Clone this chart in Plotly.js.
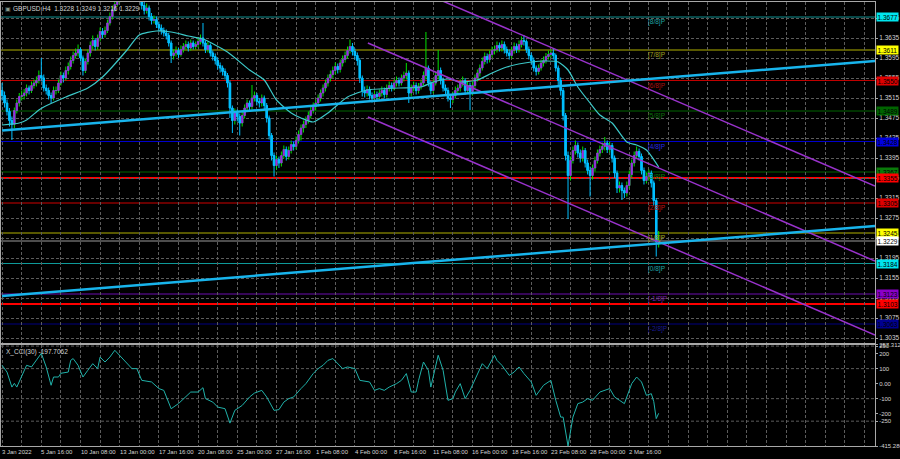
<!DOCTYPE html>
<html><head><meta charset="utf-8">
<script src="https://cdn.plot.ly/plotly-3.0.1.min.js"></script>
<style>html,body{margin:0;padding:0;background:#000;}#chart{width:900px;height:459px;}</style>
</head><body><div id="chart"></div>
<script>
// ---------- DATA ----------
const openP = [
1.3530,1.3520,1.3505,1.3488,1.3470,1.3462,1.3490,1.3505,1.3518,1.3520,
1.3525,1.3535,1.3530,1.3540,1.3545,1.3550,1.3560,1.3555,1.3535,1.3530,
1.3520,1.3515,1.3530,1.3530,1.3545,1.3560,1.3555,1.3570,1.3578,1.3590,
1.3600,1.3605,1.3612,1.3595,1.3570,1.3588,1.3605,1.3620,1.3630,1.3618,
1.3635,1.3648,1.3642,1.3650,1.3665,1.3678,1.3692,1.3702,1.3712,1.3722,
1.3735,1.3728,1.3740,1.3745,1.3735,1.3730,1.3725,1.3718,1.3700,1.3690,
1.3695,1.3678,1.3670,1.3672,1.3662,1.3655,1.3650,1.3645,1.3640,1.3625,
1.3600,1.3605,1.3610,1.3602,1.3612,1.3618,1.3622,1.3615,1.3625,1.3618,
1.3622,1.3628,1.3635,1.3625,1.3612,1.3620,1.3605,1.3598,1.3590,1.3580,
1.3575,1.3568,1.3560,1.3545,1.3495,1.3470,1.3485,1.3478,1.3465,1.3480,
1.3495,1.3505,1.3498,1.3515,1.3520,1.3508,1.3505,1.3515,1.3500,1.3475,
1.3440,1.3400,1.3380,1.3392,1.3385,1.3400,1.3412,1.3398,1.3410,1.3422,
1.3418,1.3430,1.3442,1.3455,1.3462,1.3470,1.3480,1.3490,1.3498,1.3505,
1.3515,1.3525,1.3535,1.3545,1.3555,1.3562,1.3570,1.3578,1.3572,1.3585,
1.3592,1.3600,1.3610,1.3618,1.3608,1.3600,1.3590,1.3555,1.3530,1.3525,
1.3532,1.3520,1.3515,1.3522,1.3518,1.3525,1.3530,1.3522,1.3535,1.3540,
1.3535,1.3545,1.3550,1.3545,1.3555,1.3560,1.3565,1.3525,1.3535,1.3540,
1.3530,1.3538,1.3545,1.3560,1.3575,1.3545,1.3530,1.3545,1.3560,1.3570,
1.3550,1.3535,1.3530,1.3515,1.3512,1.3520,1.3530,1.3535,1.3545,1.3550,
1.3530,1.3540,1.3528,1.3540,1.3555,1.3565,1.3575,1.3588,1.3598,1.3592,
1.3602,1.3610,1.3612,1.3620,1.3615,1.3622,1.3612,1.3605,1.3600,1.3610,
1.3618,1.3612,1.3622,1.3630,1.3628,1.3612,1.3600,1.3590,1.3575,1.3568,
1.3575,1.3585,1.3590,1.3598,1.3602,1.3605,1.3600,1.3575,1.3550,1.3530,
1.3480,1.3400,1.3360,1.3390,1.3410,1.3420,1.3405,1.3395,1.3410,1.3385,
1.3370,1.3360,1.3375,1.3390,1.3405,1.3412,1.3418,1.3425,1.3412,1.3420,
1.3395,1.3365,1.3335,1.3340,1.3330,1.3325,1.3340,1.3362,1.3385,1.3400,
1.3408,1.3398,1.3370,1.3350,1.3358,1.3365,1.3345,1.3310,1.3228];
const highP = [
1.3545,1.3528,1.3512,1.3495,1.3478,1.3496,1.3512,1.3525,1.3530,1.3533,
1.3542,1.3540,1.3548,1.3552,1.3558,1.3570,1.3595,1.3562,1.3542,1.3536,
1.3526,1.3538,1.3538,1.3552,1.3568,1.3566,1.3578,1.3586,1.3598,1.3608,
1.3614,1.3622,1.3616,1.3600,1.3594,1.3612,1.3628,1.3640,1.3635,1.3642,
1.3656,1.3655,1.3658,1.3672,1.3686,1.3700,1.3710,1.3720,1.3730,1.3742,
1.3740,1.3746,1.3749,1.3748,1.3740,1.3736,1.3730,1.3722,1.3708,1.3704,
1.3700,1.3685,1.3680,1.3678,1.3668,1.3662,1.3656,1.3652,1.3645,1.3630,
1.3612,1.3618,1.3615,1.3620,1.3625,1.3630,1.3628,1.3632,1.3630,1.3628,
1.3636,1.3642,1.3665,1.3630,1.3628,1.3624,1.3610,1.3604,1.3596,1.3586,
1.3580,1.3574,1.3565,1.3550,1.3500,1.3494,1.3492,1.3484,1.3488,1.3502,
1.3512,1.3510,1.3541,1.3528,1.3525,1.3515,1.3522,1.3520,1.3505,1.3480,
1.3445,1.3406,1.3400,1.3398,1.3408,1.3420,1.3418,1.3418,1.3430,1.3428,
1.3438,1.3450,1.3462,1.3470,1.3478,1.3488,1.3498,1.3506,1.3512,1.3522,
1.3532,1.3542,1.3552,1.3562,1.3570,1.3578,1.3586,1.3584,1.3592,1.3600,
1.3608,1.3618,1.3632,1.3625,1.3614,1.3606,1.3595,1.3560,1.3538,1.3540,
1.3538,1.3526,1.3530,1.3528,1.3532,1.3538,1.3536,1.3542,1.3548,1.3546,
1.3552,1.3558,1.3556,1.3562,1.3568,1.3585,1.3570,1.3542,1.3548,1.3546,
1.3545,1.3552,1.3568,1.3647,1.3580,1.3550,1.3552,1.3568,1.3611,1.3576,
1.3556,1.3542,1.3536,1.3522,1.3528,1.3538,1.3542,1.3552,1.3558,1.3555,
1.3548,1.3546,1.3548,1.3562,1.3572,1.3582,1.3596,1.3606,1.3604,1.3610,
1.3618,1.3620,1.3628,1.3626,1.3630,1.3628,1.3618,1.3612,1.3618,1.3626,
1.3624,1.3630,1.3638,1.3641,1.3632,1.3618,1.3606,1.3596,1.3580,1.3582,
1.3592,1.3598,1.3605,1.3610,1.3612,1.3615,1.3604,1.3580,1.3556,1.3535,
1.3485,1.3408,1.3398,1.3418,1.3430,1.3426,1.3412,1.3418,1.3415,1.3392,
1.3378,1.3382,1.3398,1.3412,1.3420,1.3426,1.3437,1.3430,1.3428,1.3425,
1.3400,1.3370,1.3348,1.3346,1.3336,1.3348,1.3370,1.3392,1.3408,1.3418,
1.3414,1.3404,1.3376,1.3366,1.3372,1.3370,1.3350,1.3315,1.3249];
const lowP = [
1.3510,1.3496,1.3480,1.3458,1.3431,1.3455,1.3484,1.3498,1.3510,1.3512,
1.3518,1.3522,1.3525,1.3534,1.3538,1.3544,1.3548,1.3528,1.3522,1.3512,
1.3505,1.3510,1.3522,1.3525,1.3540,1.3546,1.3550,1.3562,1.3572,1.3584,
1.3594,1.3598,1.3588,1.3560,1.3565,1.3582,1.3598,1.3612,1.3610,1.3612,
1.3628,1.3634,1.3636,1.3645,1.3660,1.3672,1.3688,1.3698,1.3706,1.3718,
1.3716,1.3722,1.3732,1.3726,1.3722,1.3716,1.3712,1.3692,1.3682,1.3684,
1.3670,1.3662,1.3664,1.3655,1.3648,1.3642,1.3638,1.3632,1.3618,1.3585,
1.3592,1.3598,1.3595,1.3598,1.3606,1.3612,1.3608,1.3610,1.3612,1.3612,
1.3616,1.3622,1.3618,1.3605,1.3606,1.3598,1.3590,1.3582,1.3572,1.3566,
1.3560,1.3552,1.3536,1.3475,1.3445,1.3462,1.3468,1.3440,1.3458,1.3474,
1.3488,1.3490,1.3492,1.3508,1.3500,1.3496,1.3498,1.3492,1.3466,1.3432,
1.3390,1.3358,1.3372,1.3375,1.3378,1.3394,1.3390,1.3392,1.3404,1.3410,
1.3412,1.3424,1.3430,1.3446,1.3455,1.3464,1.3474,1.3484,1.3490,1.3498,
1.3508,1.3518,1.3528,1.3538,1.3548,1.3555,1.3562,1.3564,1.3566,1.3578,
1.3586,1.3594,1.3604,1.3600,1.3592,1.3580,1.3545,1.3518,1.3516,1.3518,
1.3512,1.3506,1.3508,1.3510,1.3512,1.3518,1.3514,1.3516,1.3528,1.3528,
1.3530,1.3538,1.3538,1.3540,1.3548,1.3552,1.3505,1.3518,1.3528,1.3522,
1.3524,1.3532,1.3540,1.3552,1.3538,1.3522,1.3524,1.3540,1.3552,1.3542,
1.3528,1.3522,1.3508,1.3495,1.3505,1.3514,1.3524,1.3528,1.3538,1.3522,
1.3524,1.3491,1.3520,1.3534,1.3548,1.3558,1.3570,1.3582,1.3584,1.3586,
1.3596,1.3602,1.3606,1.3608,1.3608,1.3604,1.3598,1.3592,1.3594,1.3604,
1.3605,1.3606,1.3616,1.3620,1.3605,1.3592,1.3582,1.3568,1.3560,1.3562,
1.3570,1.3578,1.3584,1.3592,1.3596,1.3592,1.3568,1.3540,1.3520,1.3470,
1.3390,1.3273,1.3350,1.3384,1.3402,1.3396,1.3386,1.3388,1.3376,1.3362,
1.3318,1.3352,1.3368,1.3384,1.3398,1.3405,1.3410,1.3405,1.3406,1.3386,
1.3355,1.3325,1.3326,1.3311,1.3315,1.3318,1.3334,1.3356,1.3378,1.3394,
1.3390,1.3362,1.3342,1.3344,1.3350,1.3336,1.3300,1.3198,1.3216];
const closeP = [
1.3520,1.3505,1.3488,1.3470,1.3462,1.3490,1.3505,1.3518,1.3520,1.3525,
1.3535,1.3530,1.3540,1.3545,1.3550,1.3560,1.3555,1.3535,1.3530,1.3520,
1.3515,1.3530,1.3530,1.3545,1.3560,1.3555,1.3570,1.3578,1.3590,1.3600,
1.3605,1.3612,1.3595,1.3570,1.3588,1.3605,1.3620,1.3630,1.3618,1.3635,
1.3648,1.3642,1.3650,1.3665,1.3678,1.3692,1.3702,1.3712,1.3722,1.3735,
1.3728,1.3740,1.3745,1.3735,1.3730,1.3725,1.3718,1.3700,1.3690,1.3695,
1.3678,1.3670,1.3672,1.3662,1.3655,1.3650,1.3645,1.3640,1.3625,1.3600,
1.3605,1.3610,1.3602,1.3612,1.3618,1.3622,1.3615,1.3625,1.3618,1.3622,
1.3628,1.3635,1.3625,1.3612,1.3620,1.3605,1.3598,1.3590,1.3580,1.3575,
1.3568,1.3560,1.3545,1.3495,1.3470,1.3485,1.3478,1.3465,1.3480,1.3495,
1.3505,1.3498,1.3515,1.3520,1.3508,1.3505,1.3515,1.3500,1.3475,1.3440,
1.3400,1.3380,1.3392,1.3385,1.3400,1.3412,1.3398,1.3410,1.3422,1.3418,
1.3430,1.3442,1.3455,1.3462,1.3470,1.3480,1.3490,1.3498,1.3505,1.3515,
1.3525,1.3535,1.3545,1.3555,1.3562,1.3570,1.3578,1.3572,1.3585,1.3592,
1.3600,1.3610,1.3618,1.3608,1.3600,1.3590,1.3555,1.3530,1.3525,1.3532,
1.3520,1.3515,1.3522,1.3518,1.3525,1.3530,1.3522,1.3535,1.3540,1.3535,
1.3545,1.3550,1.3545,1.3555,1.3560,1.3565,1.3525,1.3535,1.3540,1.3530,
1.3538,1.3545,1.3560,1.3575,1.3545,1.3530,1.3545,1.3560,1.3570,1.3550,
1.3535,1.3530,1.3515,1.3512,1.3520,1.3530,1.3535,1.3545,1.3550,1.3530,
1.3540,1.3528,1.3540,1.3555,1.3565,1.3575,1.3588,1.3598,1.3592,1.3602,
1.3610,1.3612,1.3620,1.3615,1.3622,1.3612,1.3605,1.3600,1.3610,1.3618,
1.3612,1.3622,1.3630,1.3628,1.3612,1.3600,1.3590,1.3575,1.3568,1.3575,
1.3585,1.3590,1.3598,1.3602,1.3605,1.3600,1.3575,1.3550,1.3530,1.3480,
1.3400,1.3360,1.3390,1.3410,1.3420,1.3405,1.3395,1.3410,1.3385,1.3370,
1.3360,1.3375,1.3390,1.3405,1.3412,1.3418,1.3425,1.3412,1.3420,1.3395,
1.3365,1.3335,1.3340,1.3330,1.3325,1.3340,1.3362,1.3385,1.3400,1.3408,
1.3398,1.3370,1.3350,1.3358,1.3365,1.3345,1.3310,1.3228,1.3229];

const maBars = [0,7,10,15,17,26,35,41,51,56,63,69,76,82,92,101,107,112,118,122,127,133,141,149,162,171,176,182,187,194,200,206,216,222,227,231,235,240,244,249,255,259,263,268];
const maValues = [1.3461,1.3465,1.3471,1.3491,1.3497,1.3517,1.3535,1.3557,1.3611,1.3641,1.3649,1.3647,1.3639,1.3633,1.3607,1.3571,1.3551,1.3511,1.3485,1.3475,1.3467,1.3485,1.3517,1.3531,1.3535,1.3537,1.3547,1.3553,1.3547,1.3551,1.3565,1.3577,1.3587,1.3589,1.3587,1.3571,1.3537,1.3505,1.3481,1.3465,1.3427,1.3421,1.3411,1.3377];

const cciBars = [0,2,4,5,6,8,10,12,13,16,18,20,21,23,24,27,28,29,31,33,35,37,39,40,42,44,46,48,50,53,55,57,61,64,66,69,72,75,77,80,82,83,86,88,91,93,95,98,101,103,106,108,111,113,115,117,119,122,124,127,129,131,133,135,137,139,141,144,146,150,152,154,156,158,161,163,165,167,169,170,172,174,175,178,180,182,184,185,187,189,191,193,194,196,198,201,202,204,207,209,211,213,216,218,221,223,224,226,228,229,231,233,235,237,239,241,244,248,250,252,254,257,259,261,263,265,266,267,268];
const cciValues = [122,77,-23,2,-23,44,122,111,135,202,111,-11,44,44,69,77,155,167,122,44,89,133,100,177,144,177,222,189,155,100,100,22,11,-33,-45,-167,-133,-89,-56,-56,-27,-100,-123,-156,-167,-263,-178,-145,-89,-63,-45,-89,-178,-173,-123,-100,-89,-33,0,67,100,122,155,167,133,100,111,100,22,11,-45,-33,-45,-23,0,22,67,-56,-56,22,144,89,-23,189,89,-111,-100,-56,0,-100,-45,22,55,133,100,189,155,122,55,77,111,67,11,-78,-11,11,22,-111,-223,-223,-415.286,-223,-133,-123,-100,-111,-56,-33,-89,-111,-133,0,44,11,-78,-67,-120,-233,-197.7062];
const cciLevels = [250,100,-100,-250];
const cciTickVals = [257.3123,250,200,100,0,-100,-200,-250,-415.286];
const cciTickText = ["257.3123","250","200","100","0.00","-100","-200","-250","-415.286"];

const timeLabelBars = [0,16,32,48,64,80,96,112,128,144,160,176,192,208,224,240,256];
const timeLabels = ["3 Jan 2022","5 Jan 16:00","10 Jan 08:00","13 Jan 00:00","17 Jan 16:00","20 Jan 08:00","25 Jan 00:00","27 Jan 16:00","1 Feb 08:00","4 Feb 00:00","8 Feb 16:00","11 Feb 08:00","16 Feb 00:00","18 Feb 16:00","23 Feb 08:00","28 Feb 00:00","2 Mar 16:00"];
const gridBars = [0,8,16,24,32,40,48,56,64,72,80,88,96,104,112,120,128,136,144,152,160,168,176,184,192,200,208,216,224,232,240,248,256,264,272,280,288,296,304,312,320,328,336,344,352];
const priceTicks = [1.3035,1.3075,1.3115,1.3155,1.3195,1.3235,1.3275,1.3315,1.3355,1.3395,1.3435,1.3475,1.3515,1.3555,1.3595,1.3635,1.3675];

const murreyLevels = [1.3677,1.3611,1.3550,1.3489,1.3428,1.3367,1.3305,1.3245,1.3184,1.3123,1.3063];
const murreyNames = ["[8/8]P","[7/8]P","[6/8]P","[5/8]P","[4/8]P","[3/8]P","[2/8]P","[1/8]P","[0/8]P","[-1/8]P","[-2/8]P"];
const murreyLabelBar = 263;
const supportLevels = [1.3355,1.3103];
const bidPrice = 1.3229;
const priceBoxes = [1.3677,1.3611,1.3550,1.3489,1.3428,1.3367,1.3355,1.3305,1.3245,1.3229,1.3184,1.3123,1.3103,1.3063];

const trendUpperBars = [0,356.3], trendUpperPrices = [1.3450,1.3589];
const trendLowerBars = [0,356.3], trendLowerPrices = [1.3119,1.3259];
const chanTopBars = [175,356.3], chanTopPrices = [1.3719,1.3339];
const chanMidBars = [149.3,356.3], chanMidPrices = [1.3625,1.3189];
const chanLowBars = [149.3,356.3], chanLowPrices = [1.3477,1.3041];

const titleText = "GBPUSD,H4  1.3228 1.3249 1.3216 1.3229";
const cciTitle = "X_CCI(30) -197.7062";

// ---------- STYLE ----------
const FONT = "'Liberation Sans',Arial,sans-serif";
const FS = 6.5, FS_SMALL = 6;
const GRID = '#5c5c5c', FRAME = '#a8a8a8', TXT = '#d4d4d4';
const murreyLineColors = ['#0e9090','#b0b000','#c00000','#006400','#0000cd','#006400','#d00000','#b0b000','#0e9a9a','#6a0dad','#000080'];
const murreyTextColors = ['#1fa5a5','#a0a020','#b01010','#0b700b','#2a2ae0','#0b800b','#c81010','#a8a820','#1fa5a5','#7a20a8','#1a1a90'];
const boxColors = ['#00e5ee','#ffff00','#e00000','#006400','#0000e0','#0a7a0a','#ff0000','#e00000','#ffff00','#ffffff','#00e5ee','#8a00c8','#ff0000','#000090'];

const bars = closeP.map((_, i) => i);
const bodyHigh = openP.map((o, i) => Math.max(o, closeP[i]));
const bodyLow = openP.map((o, i) => Math.min(o, closeP[i]));

const traces = [
  {type:'candlestick', x:bars, open:openP, high:highP, low:lowP, close:closeP, xaxis:'x', yaxis:'y',
   increasing:{line:{color:'#00e000', width:1}, fillcolor:'#a020f0'},
   decreasing:{line:{color:'#00bfff', width:1}, fillcolor:'#00bfff'},
   whiskerwidth:0, hoverinfo:'skip'},
  {type:'candlestick', x:bars, open:openP, high:bodyHigh, low:bodyLow, close:closeP, xaxis:'x', yaxis:'y',
   increasing:{line:{color:'#a020f0', width:0.6}, fillcolor:'#a020f0'},
   decreasing:{line:{color:'#00bfff', width:0.6}, fillcolor:'#00bfff'},
   whiskerwidth:0, hoverinfo:'skip'},
  {type:'scatter', mode:'lines', x:maBars, y:maValues, xaxis:'x', yaxis:'y', line:{color:'#3cc8c8', width:1.2, shape:'spline', smoothing:0.6}, hoverinfo:'skip'},
  {type:'scatter', mode:'lines', x:chanTopBars, y:chanTopPrices, xaxis:'x', yaxis:'y', line:{color:'#9932cc', width:1.5}, hoverinfo:'skip'},
  {type:'scatter', mode:'lines', x:chanMidBars, y:chanMidPrices, xaxis:'x', yaxis:'y', line:{color:'#9932cc', width:1.5}, hoverinfo:'skip'},
  {type:'scatter', mode:'lines', x:chanLowBars, y:chanLowPrices, xaxis:'x', yaxis:'y', line:{color:'#9932cc', width:1.5}, hoverinfo:'skip'},
  {type:'scatter', mode:'lines', x:trendUpperBars, y:trendUpperPrices, xaxis:'x', yaxis:'y', line:{color:'#18b4ec', width:2.5}, hoverinfo:'skip'},
  {type:'scatter', mode:'lines', x:trendLowerBars, y:trendLowerPrices, xaxis:'x', yaxis:'y', line:{color:'#18b4ec', width:2.5}, hoverinfo:'skip'},
  {type:'scatter', mode:'lines', x:cciBars, y:cciValues, xaxis:'x2', yaxis:'y2', line:{color:'#20b2aa', width:1}, hoverinfo:'skip'}
];

const shapes = [];
murreyLevels.forEach((lv, k) => shapes.push({type:'line', xref:'paper', x0:0, x1:1, yref:'y', y0:lv, y1:lv, layer:'below', line:{color:murreyLineColors[k], width:1}}));
supportLevels.forEach(lv => shapes.push({type:'line', xref:'paper', x0:0, x1:1, yref:'y', y0:lv, y1:lv, layer:'below', line:{color:'#ff0000', width:2}}));
shapes.push({type:'line', xref:'paper', x0:0, x1:1, yref:'y', y0:bidPrice, y1:bidPrice, layer:'below', line:{color:'#9a9a9a', width:1}});
cciLevels.forEach(lv => shapes.push({type:'line', xref:'paper', x0:0, x1:1, yref:'y2', y0:lv, y1:lv, layer:'below', line:{color:GRID, width:1, dash:'3px,2px'}}));

const annotations = [];
murreyLevels.forEach((lv, k) => annotations.push({xref:'x', x:murreyLabelBar, xanchor:'left', yref:'y', y:lv, yanchor:'middle', yshift:-5,
  text:murreyNames[k], showarrow:false, font:{family:FONT, size:FS, color:murreyTextColors[k]}}));
priceBoxes.forEach((lv, k) => annotations.push({xref:'paper', x:1, xanchor:'left', xshift:1, yref:'y', y:lv, yanchor:'middle',
  text:lv.toFixed(4), showarrow:false, bgcolor:boxColors[k], borderpad:0.5, font:{family:FONT, size:FS, color:'#000000'}}));
timeLabelBars.forEach((b, k) => annotations.push({xref:'x2', x:b, xanchor:'left', xshift:-2, yref:'paper', y:0, yanchor:'top', yshift:-1,
  text:timeLabels[k], showarrow:false, font:{family:FONT, size:FS_SMALL, color:TXT}}));
annotations.push({xref:'paper', x:0, xanchor:'left', xshift:10, yref:'paper', y:1, yanchor:'top', yshift:-1, text:titleText, showarrow:false, font:{family:FONT, size:FS, color:TXT}});
annotations.push({xref:'paper', x:0, xanchor:'left', xshift:2, yref:'paper', y:1, yanchor:'top', yshift:-2, text:'▣', showarrow:false, font:{family:FONT, size:6, color:'#8a9a8a'}});
annotations.push({xref:'paper', x:0, xanchor:'left', xshift:3, yref:'paper', y:0.2275, yanchor:'top', yshift:-1, text:cciTitle, showarrow:false, font:{family:FONT, size:FS, color:TXT}});

const xCommon = {range:[-0.45,356.3], tickvals:gridBars, showticklabels:false, ticks:'', showgrid:true, gridcolor:GRID, griddash:'3px,2px', gridwidth:1,
  showline:true, mirror:true, linecolor:FRAME, linewidth:1, zeroline:false, fixedrange:true};

const layout = {
  width:900, height:459, paper_bgcolor:'#000', plot_bgcolor:'#000',
  margin:{l:1, r:25, t:2, b:13}, showlegend:false, hovermode:false, dragmode:false,
  boxgap:0.4, boxgroupgap:0,
  font:{family:FONT, size:FS, color:TXT},
  xaxis:Object.assign({}, xCommon, {domain:[0,1], anchor:'y', rangeslider:{visible:false}}),
  xaxis2:Object.assign({}, xCommon, {domain:[0,1], anchor:'y2'}),
  yaxis:{domain:[0.2331,1], anchor:'x', side:'right', range:[1.3026,1.3707], tickvals:priceTicks, ticktext:priceTicks.map(v=>v.toFixed(4)),
    showgrid:true, gridcolor:GRID, griddash:'3px,2px', gridwidth:1, showline:true, mirror:true, linecolor:FRAME, linewidth:1,
    ticks:'outside', ticklen:2, tickcolor:FRAME, tickfont:{family:FONT, size:FS, color:TXT}, zeroline:false, fixedrange:true},
  yaxis2:{domain:[0,0.2275], anchor:'x2', side:'right', range:[-415.286,257.3123], tickvals:cciTickVals, ticktext:cciTickText,
    showgrid:false, showline:true, mirror:true, linecolor:FRAME, linewidth:1,
    ticks:'outside', ticklen:2, tickcolor:FRAME, tickfont:{family:FONT, size:FS_SMALL, color:TXT}, zeroline:false, fixedrange:true},
  shapes:shapes, annotations:annotations
};

Plotly.newPlot('chart', traces, layout, {staticPlot:true, displayModeBar:false});
</script>
</body></html>
